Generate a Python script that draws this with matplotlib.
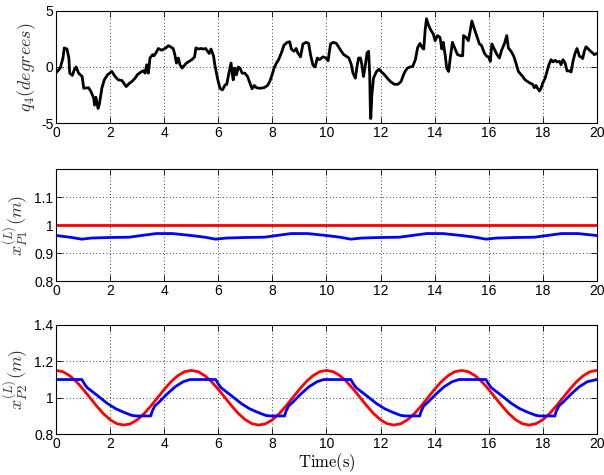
import numpy as np
import matplotlib
matplotlib.use("Agg")
import matplotlib.pyplot as plt

plt.rcParams['font.family'] = ['Liberation Sans', 'DejaVu Sans']
plt.rcParams['mathtext.fontset'] = 'cm'
plt.rcParams['axes.unicode_minus'] = False

# top panel: q4 in degrees
q4_t = [0.00, 0.15, 0.25, 0.30, 0.40, 0.47, 0.50, 0.60, 0.67, 0.74, 0.83, 0.96,
        1.02, 1.20, 1.29, 1.39, 1.42, 1.47, 1.55, 1.60, 1.69, 1.78, 1.90, 2.06,
        2.18, 2.30, 2.43, 2.59, 2.71, 2.80, 2.92, 3.00, 3.08, 3.17, 3.23, 3.29,
        3.35, 3.41, 3.47, 3.57, 3.62, 3.69, 3.78, 3.90, 3.99, 4.06, 4.15, 4.23,
        4.33, 4.39, 4.45, 4.52, 4.58, 4.66, 4.82, 5.02, 5.12, 5.17, 5.26, 5.36,
        5.45, 5.53, 5.60, 5.66, 5.73, 5.82, 5.88, 5.98, 6.06, 6.15, 6.25, 6.31,
        6.39, 6.47, 6.52, 6.55, 6.61, 6.67, 6.74, 6.80, 6.88, 6.98, 7.08, 7.17,
        7.25, 7.33, 7.41, 7.53, 7.69, 7.82, 7.90, 7.99, 8.06, 8.15, 8.23, 8.33,
        8.43, 8.55, 8.64, 8.70, 8.80, 8.88, 8.94, 9.04, 9.13, 9.25, 9.34, 9.41,
        9.50, 9.58, 9.66, 9.74, 9.87, 9.98, 10.06, 10.15, 10.25, 10.37, 10.47,
        10.55, 10.64, 10.74, 10.83, 10.92, 10.98, 11.07, 11.13, 11.19, 11.26,
        11.31, 11.37, 11.44, 11.50, 11.56, 11.60, 11.62, 11.64, 11.68, 11.74,
        11.84, 11.94, 12.02, 12.15, 12.27, 12.39, 12.52, 12.64, 12.76, 12.85,
        12.92, 13.00, 13.09, 13.19, 13.29, 13.37, 13.46, 13.55, 13.60, 13.65,
        13.70, 13.78, 13.87, 13.95, 14.02, 14.11, 14.20, 14.27, 14.32, 14.39,
        14.45, 14.52, 14.58, 14.66, 14.76, 14.85, 14.97, 15.04, 15.07, 15.16,
        15.25, 15.32, 15.38, 15.47, 15.57, 15.65, 15.74, 15.84, 15.93, 16.00,
        16.06, 16.12, 16.21, 16.31, 16.40, 16.48, 16.58, 16.67, 16.73, 16.83,
        16.93, 17.01, 17.10, 17.17, 17.26, 17.35, 17.44, 17.54, 17.63, 17.69,
        17.75, 17.81, 17.88, 17.94, 18.00, 18.09, 18.16, 18.23, 18.31, 18.38,
        18.46, 18.53, 18.62, 18.68, 18.75, 18.83, 18.90, 18.99, 19.05, 19.12,
        19.20, 19.27, 19.36, 19.42, 19.48, 19.54, 19.60, 19.67, 19.77, 19.85,
        19.91, 20.00]
q4_deg = [-0.5, -0.1, 0.8, 1.7, 1.6, 0.8, -0.55, -0.75, -0.25, 0.0, -0.55, -0.85,
          -1.9, -1.85, -2.2, -2.8, -3.4, -2.7, -3.7, -3.3, -1.9, -1.15, -0.7, -0.4,
          -0.85, -1.15, -1.2, -1.75, -1.45, -1.3, -1.0, -0.7, -0.55, -0.4, -0.33, -0.55,
          0.2, -0.55, 0.8, 1.1, 1.0, 1.25, 1.65, 1.5, 1.6, 1.7, 1.9, 1.8,
          1.65, 1.1, 0.35, 0.8, 0.2, -0.1, 0.35, 0.65, 0.9, 1.7, 1.6, 1.65,
          1.6, 1.65, 1.4, 1.2, 1.6, 1.0, 0.05, -1.15, -1.9, -2.05, -1.6, -1.55,
          -0.55, 0.35, -0.7, -1.15, -0.1, -0.7, 0.0, -0.1, -0.55, -0.55, -0.85, -1.45,
          -1.95, -1.65, -1.85, -1.9, -1.85, -1.65, -1.3, -0.7, -0.1, 0.35, 0.65, 1.25,
          1.95, 2.2, 2.25, 1.6, 1.4, 1.65, 1.25, 0.9, 2.05, 2.2, 2.1, 1.1,
          0.15, 0.0, 0.8, 0.65, 0.9, 0.8, 0.55, 2.05, 2.2, 2.1, 1.7,
          1.4, 1.1, 0.95, 0.8, 0.2, -0.55, -1.0, 0.05, 0.8, 0.8,
          0.2, -0.85, 0.2, 1.25, 1.4, -0.7, -3.4, -4.6, -2.5, -1.0,
          -0.45, -0.2, -0.4, -0.7, -1.05, -1.35, -1.55, -1.55, -1.3, -0.7,
          -0.35, -0.1, 0.0, 0.05, 0.65, 1.7, 2.1, 1.7, 1.6, 3.25,
          4.3, 3.7, 3.25, 2.95, 2.35, 2.8, 2.65, 1.6, 2.2, 1.1,
          -0.1, -0.4, 0.8, 2.2, 1.6, 1.1, 1.0, 1.0, 2.8, 2.65,
          2.35, 3.25, 4.1, 3.4, 2.7, 2.1, 1.9, 1.25, 0.95, 0.9,
          0.5, 2.05, 1.6, 1.1, 0.8, 1.5, 2.05, 2.8, 1.7, 1.4,
          0.95, 0.35, -0.4, -0.6, -0.85, -1.15, -1.3, -1.45, -1.55, -1.85,
          -1.65, -1.9, -2.15, -1.9, -1.45, -1.0, -0.4, 0.2, 0.65, 0.45,
          0.6, 0.45, 0.5, 0.2, 0.65, 0.35, -0.35, -0.35, -0.45, 0.5,
          1.25, 1.65, 0.95, 0.9, 0.75, 1.4, 1.8, 1.65, 1.4, 1.25,
          1.1, 1.2]

# middle panel: x_P1 reference (red) and actual (blue)
p1_ref_t = [0, 20]
p1_ref = [1.0, 1.0]
p1_t = [0.0, 0.5, 0.95, 1.3, 2.0, 2.7, 3.0, 3.7, 4.3, 5.0, 5.5, 5.9, 6.3, 7.0, 7.7, 8.0,
        8.7, 9.3, 10.0, 10.5, 10.9, 11.3, 12.0, 12.7, 13.0, 13.7, 14.3, 15.0, 15.5,
        15.9, 16.3, 17.0, 17.7, 18.0, 18.7, 19.3, 20.0]
p1_act = [0.963, 0.957, 0.950, 0.954, 0.956, 0.957, 0.961, 0.970, 0.970, 0.963, 0.957,
          0.950, 0.954, 0.956, 0.957, 0.961, 0.970, 0.970, 0.963, 0.957, 0.950, 0.954,
          0.956, 0.957, 0.961, 0.970, 0.970, 0.963, 0.957, 0.950, 0.954, 0.956, 0.957,
          0.961, 0.970, 0.970, 0.963]

# bottom panel: x_P2 reference (red) and actual (blue)
p2_ref_t = np.arange(0, 20.01, 0.25)
p2_ref = [1.150, 1.143, 1.121, 1.088, 1.046, 1.000, 0.954, 0.912, 0.879, 0.857,
          0.850, 0.857, 0.879, 0.912, 0.954, 1.000, 1.046, 1.088, 1.121, 1.143,
          1.150, 1.143, 1.121, 1.088, 1.046, 1.000, 0.954, 0.912, 0.879, 0.857,
          0.850, 0.857, 0.879, 0.912, 0.954, 1.000, 1.046, 1.088, 1.121, 1.143,
          1.150, 1.143, 1.121, 1.088, 1.046, 1.000, 0.954, 0.912, 0.879, 0.857,
          0.850, 0.857, 0.879, 0.912, 0.954, 1.000, 1.046, 1.088, 1.121, 1.143,
          1.150, 1.143, 1.121, 1.088, 1.046, 1.000, 0.954, 0.912, 0.879, 0.857,
          0.850, 0.857, 0.879, 0.912, 0.954, 1.000, 1.046, 1.088, 1.121, 1.143,
          1.150]
p2_t = [0.00, 0.95, 1.05, 1.15, 1.50, 1.90, 2.20, 2.50, 2.80, 2.95, 3.50, 3.55, 3.65,
        3.80, 4.10, 4.40, 4.70, 4.95,
        5.90, 6.00, 6.10, 6.45, 6.85, 7.15, 7.45, 7.75, 7.90, 8.45, 8.50, 8.60,
        8.75, 9.05, 9.35, 9.65, 9.90,
        10.90, 11.00, 11.10, 11.45, 11.85, 12.15, 12.45, 12.75, 12.90, 13.45, 13.50, 13.60,
        13.75, 14.05, 14.35, 14.65, 14.90,
        15.90, 16.00, 16.10, 16.45, 16.85, 17.15, 17.45, 17.75, 17.90, 18.45, 18.50, 18.60,
        18.75, 19.05, 19.35, 19.65, 20.00]
p2_act = [1.100, 1.100, 1.075, 1.055, 1.015, 0.968, 0.940, 0.920, 0.903, 0.900, 0.900,
          0.925, 0.955, 0.975, 1.020, 1.060, 1.088, 1.100,
          1.100, 1.075, 1.055, 1.015, 0.968, 0.940, 0.920, 0.903, 0.900, 0.900, 0.925,
          0.955, 0.975, 1.020, 1.060, 1.088, 1.100,
          1.100, 1.075, 1.055, 1.015, 0.968, 0.940, 0.920, 0.903, 0.900, 0.900, 0.925,
          0.955, 0.975, 1.020, 1.060, 1.088, 1.100,
          1.100, 1.075, 1.055, 1.015, 0.968, 0.940, 0.920, 0.903, 0.900, 0.900, 0.925,
          0.955, 0.975, 1.020, 1.060, 1.088, 1.100]

x_ticks = list(range(0, 21, 2))

fig = plt.figure(figsize=(6.04, 4.75), dpi=100)
ax1 = fig.add_axes([0.093, 0.741, 0.895, 0.236])
ax2 = fig.add_axes([0.093, 0.408, 0.895, 0.236])
ax3 = fig.add_axes([0.093, 0.086, 0.895, 0.230])

ax1.plot(q4_t, q4_deg, color='black', lw=2.0)
ax2.plot(p1_ref_t, p1_ref, color='red', lw=2.0)
ax2.plot(p1_t, p1_act, color='blue', lw=2.0)
ax3.plot(p2_ref_t, p2_ref, color='red', lw=2.0)
ax3.plot(p2_t, p2_act, color='blue', lw=2.0)

ax1.set_ylim(-5, 5)
ax1.set_yticks([-5, 0, 5])
ax1.set_yticklabels(['-5', '0', '5'])
ax2.set_ylim(0.8, 1.2)
ax2.set_yticks([0.8, 0.9, 1.0, 1.1])
ax2.set_yticklabels(['0.8', '0.9', '1', '1.1'])
ax3.set_ylim(0.8, 1.4)
ax3.set_yticks([0.8, 1.0, 1.2, 1.4])
ax3.set_yticklabels(['0.8', '1', '1.2', '1.4'])

for ax in (ax1, ax2, ax3):
    ax.set_xlim(0, 20)
    ax.set_xticks(x_ticks)
    ax.set_xticklabels([str(v) for v in x_ticks])
    ax.grid(True, color='black', linestyle=(0, (1, 3)), lw=0.6)
    ax.tick_params(direction='in', top=True, right=True, length=4, width=0.6,
                   labelsize=10, pad=2)
    for s in ax.spines.values():
        s.set_linewidth(0.8)

ylab_kw = dict(fontsize=13, color='#333333', labelpad=2)
ax1.set_ylabel(r'$q_4(degrees)$', **ylab_kw)
ax2.set_ylabel(r'$x_{P1}^{(L)}(m)$', **ylab_kw)
ax3.set_ylabel(r'$x_{P2}^{(L)}(m)$', **ylab_kw)
ax3.set_xlabel(r'$\mathrm{Time(s)}$', fontsize=12, labelpad=0.5)

fig.savefig('out.png', dpi=100)
